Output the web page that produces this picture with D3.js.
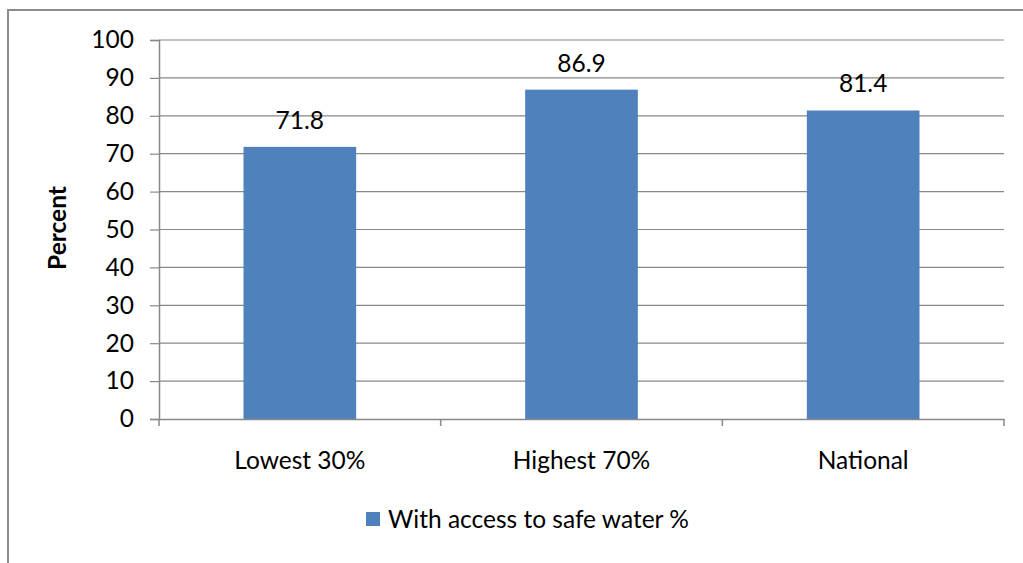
<!DOCTYPE html>
<html>
<head>
<meta charset="utf-8">
<script src="https://cdn.jsdelivr.net/npm/d3@7"></script>
<style>
  html, body { margin: 0; padding: 0; background: #fff; }
  svg { display: block; }
  text { font-family: Lato, "Open Sans", sans-serif; fill: #000; }
</style>
</head>
<body>
<svg id="chart" width="1023" height="563"></svg>
<script>
const categories = ["Lowest 30%", "Highest 70%", "National"];
const values = [71.8, 86.9, 81.4];
const seriesName = "With access to safe water %";
const yTicks = [0, 10, 20, 30, 40, 50, 60, 70, 80, 90, 100];
const yTitle = "Percent";

const svg = d3.select("#chart");
const mLeft = 159, mRight = 1004, mTop = 40, mBottom = 419;
const fs = 24.5;

// outer border (extends beyond visible area on right/bottom)
svg.append("rect").attr("x", 8).attr("y", 10).attr("width", 1040).attr("height", 600)
  .attr("fill", "#fff").attr("stroke", "#8c8c8c").attr("stroke-width", 2);

const x = d3.scaleBand().domain(categories).range([mLeft, mRight]).paddingInner(0).paddingOuter(0);
const y = d3.scaleLinear().domain([0, 100]).range([mBottom, mTop]);

// gridlines
svg.append("g").selectAll("line").data(yTicks.filter(d => d > 0)).join("line")
  .attr("x1", mLeft).attr("x2", mRight)
  .attr("y1", d => y(d)).attr("y2", d => y(d))
  .attr("stroke", "#888").attr("stroke-width", 1.2);

// bars
const barW = x.bandwidth() * 0.4;
svg.append("g").selectAll("rect").data(values).join("rect")
  .attr("x", (d, i) => x(categories[i]) + x.bandwidth() / 2 - barW / 2)
  .attr("width", barW)
  .attr("y", d => y(d))
  .attr("height", d => y(0) - y(d))
  .attr("fill", "#4F81BD");

// y axis
const yAxis = d3.axisLeft(y).tickValues(yTicks).tickSize(9).tickPadding(16);
const gy = svg.append("g").attr("transform", `translate(${mLeft},0)`).call(yAxis);
gy.select(".domain").attr("stroke", "#888").attr("stroke-width", 1.5);
gy.selectAll(".tick line").attr("stroke", "#888").attr("stroke-width", 1.2);
gy.selectAll(".tick text").attr("font-size", fs).attr("font-family", "Lato").attr("fill", "#000");

// x axis
const xAxis = d3.axisBottom(x).tickSize(0).tickPadding(32.5);
const gx = svg.append("g").attr("transform", `translate(0,${mBottom})`).call(xAxis);
gx.select(".domain").attr("stroke", "#888").attr("stroke-width", 1.5);
gx.selectAll(".tick text").attr("font-size", fs).attr("font-family", "Lato").attr("fill", "#000");
// category boundary ticks
const bounds = [mLeft].concat(categories.map(c => x(c) + x.bandwidth()));
gx.append("g").selectAll("line").data(bounds).join("line")
  .attr("x1", d => d).attr("x2", d => d).attr("y1", 0).attr("y2", 7)
  .attr("stroke", "#888").attr("stroke-width", 1.5);

// value labels
svg.append("g").selectAll("text").data(values).join("text")
  .attr("x", (d, i) => x(categories[i]) + x.bandwidth() / 2)
  .attr("y", d => y(d) - 18)
  .attr("text-anchor", "middle")
  .attr("font-size", fs)
  .text(d => d.toFixed(1));

// y title
svg.append("text")
  .attr("transform", `translate(66,228) rotate(-90)`)
  .attr("text-anchor", "middle")
  .attr("font-size", fs)
  .attr("font-weight", "bold")
  .text(yTitle);

// legend
const lg = svg.append("g").attr("transform", "translate(366,512)");
lg.append("rect").attr("width", 14).attr("height", 14).attr("fill", "#4F81BD");
lg.append("text").attr("x", 22).attr("y", 15.5).attr("font-size", fs).text(seriesName);
</script>
</body>
</html>
